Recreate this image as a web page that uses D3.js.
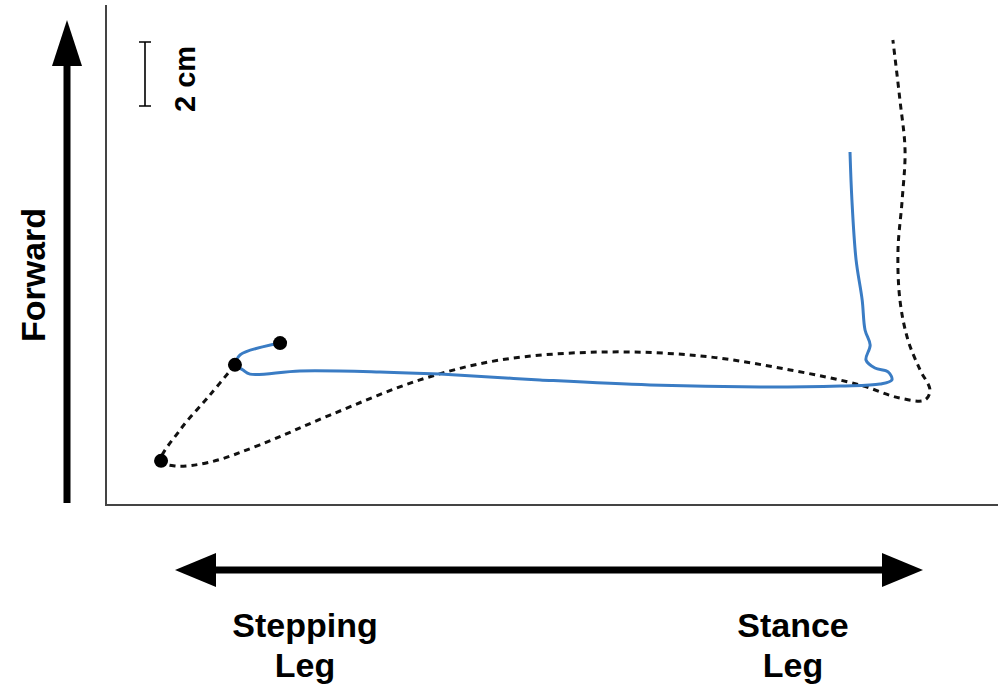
<!DOCTYPE html>
<html><head><meta charset="utf-8">
<script src="https://cdn.jsdelivr.net/npm/d3@7"></script>
<style>body{margin:0;background:#fff}</style>
</head><body>
<svg id="c" width="998" height="692"></svg>
<script>
// trajectories in cm (x: lateral, y: forward)
const blueX = [23.25,23.31,23.44,23.63,23.72,23.88,23.75,24.03,24.44,24.56,24.19,22.94,20.44,17.00,13.56,10.44,8.56,6.06,4.50,4.28,4.06,4.19,5.44];
const blueY = [11.03,9.53,7.66,6.41,5.47,5.00,4.53,4.28,4.16,3.91,3.78,3.72,3.69,3.75,3.91,4.09,4.16,4.19,4.09,4.22,4.38,4.69,5.06];
const dashX = [4.03,3.25,2.31,1.72,2.16,3.25,4.81,7.00,9.81,12.31,15.44,18.56,21.38,23.56,24.81,25.59,25.75,25.44,25.06,24.81,24.75,24.88,24.97,24.81,24.59];
const dashY = [4.38,3.44,2.34,1.38,1.22,1.34,1.88,2.81,3.91,4.53,4.78,4.66,4.22,3.75,3.34,3.28,3.59,4.22,5.16,6.41,7.97,9.53,11.09,12.66,14.53];
const dotX = [5.44,4.03,1.72];
const dotY = [5.06,4.38,1.38];

const svg = d3.select("#c");
const x = d3.scaleLinear().domain([0, 28]).range([106, 1002]);
const y = d3.scaleLinear().domain([0, 15.6]).range([505, 5.8]);
const font = "Arial, 'Liberation Sans', sans-serif";

// axes
svg.append("line").attr("x1",106).attr("x2",106).attr("y1",5).attr("y2",506).attr("stroke","#444").attr("stroke-width",2);
svg.append("line").attr("x1",105).attr("x2",998).attr("y1",505).attr("y2",505).attr("stroke","#444").attr("stroke-width",2);

// forward arrow
svg.append("line").attr("x1",67).attr("x2",67).attr("y1",503).attr("y2",60).attr("stroke","#000").attr("stroke-width",7);
svg.append("path").attr("d","M67,20 L52,66 L82,66 Z").attr("fill","#000");
// lateral arrow
svg.append("line").attr("x1",210).attr("x2",888).attr("y1",570).attr("y2",570).attr("stroke","#000").attr("stroke-width",7);
svg.append("path").attr("d","M175,570 L216,553 L216,587 Z").attr("fill","#000");
svg.append("path").attr("d","M923,570 L882,553 L882,587 Z").attr("fill","#000");

// scale bar
svg.append("path").attr("d","M139,42 H151 M145,42 V106 M139,106 H151").attr("stroke","#000").attr("stroke-width",1.6).attr("fill","none");
svg.append("text").attr("transform","translate(195,79) rotate(-90)").attr("text-anchor","middle")
  .style("font-family",font).style("font-weight","bold").style("font-size","29px").text("2 cm");

svg.append("text").attr("transform","translate(45,275) rotate(-90)").attr("text-anchor","middle")
  .style("font-family",font).style("font-weight","bold").style("font-size","34px").text("Forward");

[["Stepping",305,637],["Leg",305,677],["Stance",793,637],["Leg",793,677]].forEach(([t,tx,ty]) => {
  svg.append("text").attr("x",tx).attr("y",ty).attr("text-anchor","middle")
    .style("font-family",font).style("font-weight","bold").style("font-size","34px").text(t);
});

const line = d3.line().x(d => x(d[0])).y(d => y(d[1])).curve(d3.curveCatmullRom);
svg.append("path").datum(d3.zip(dashX, dashY)).attr("d", line)
  .attr("fill","none").attr("stroke","#111").attr("stroke-width",3).attr("stroke-dasharray","6,5");
svg.append("path").datum(d3.zip(blueX, blueY)).attr("d", line)
  .attr("fill","none").attr("stroke","#3a7cc4").attr("stroke-width",3);

svg.selectAll("circle.dot").data(d3.zip(dotX, dotY)).join("circle").attr("class","dot")
  .attr("cx", d => x(d[0])).attr("cy", d => y(d[1])).attr("r", 7).attr("fill","#000");
</script>
</body></html>
